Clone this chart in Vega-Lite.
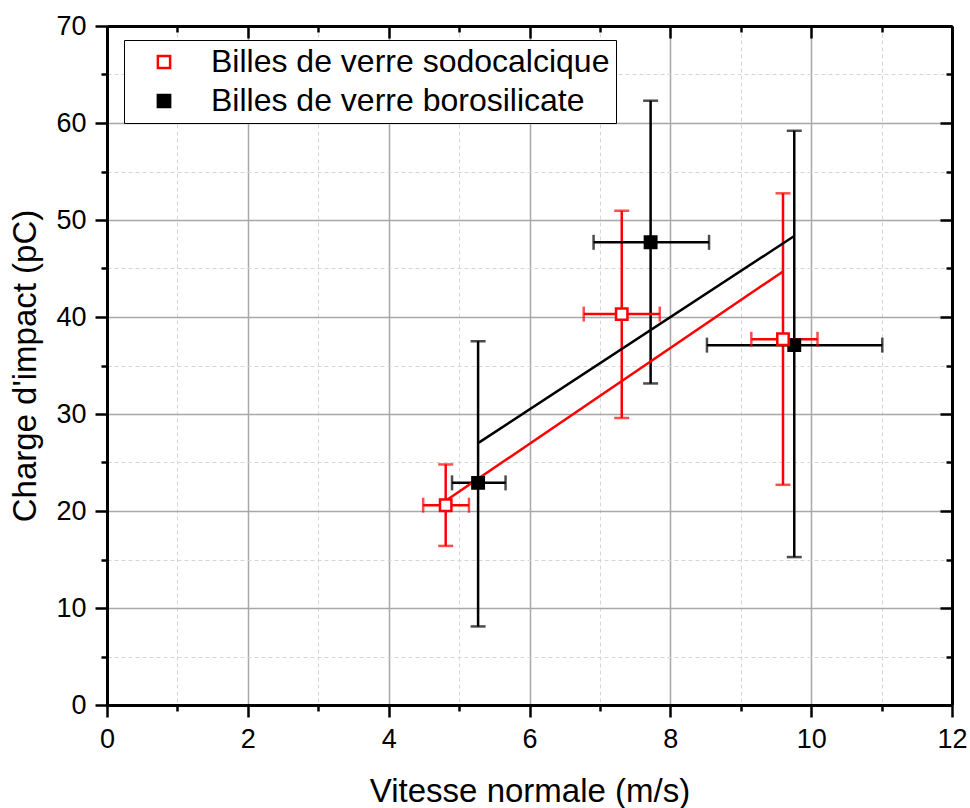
{
  "$schema": "https://vega.github.io/schema/vega-lite/v6.json",
  "width": 845,
  "height": 679,
  "autosize": {"type": "none"},
  "padding": {"left": 107, "top": 26, "right": 18, "bottom": 103},
  "background": "white",
  "datasets": {
    "pts": [
      {"series": "Billes de verre borosilicate", "x": 5.27, "y": 22.9, "xlo": 4.9, "xhi": 5.66, "ylo": 8.1, "yhi": 37.5},
      {"series": "Billes de verre borosilicate", "x": 7.72, "y": 47.7, "xlo": 6.91, "xhi": 8.55, "ylo": 33.15, "yhi": 62.3},
      {"series": "Billes de verre borosilicate", "x": 9.76, "y": 37.1, "xlo": 8.52, "xhi": 11.01, "ylo": 15.25, "yhi": 59.2},
      {"series": "Billes de verre sodocalcique", "x": 4.81, "y": 20.6, "xlo": 4.49, "xhi": 5.14, "ylo": 16.4, "yhi": 24.8},
      {"series": "Billes de verre sodocalcique", "x": 7.31, "y": 40.3, "xlo": 6.77, "xhi": 7.85, "ylo": 29.6, "yhi": 50.95},
      {"series": "Billes de verre sodocalcique", "x": 9.6, "y": 37.7, "xlo": 9.15, "xhi": 10.09, "ylo": 22.7, "yhi": 52.75}
    ],
    "fits": [
      {"series": "Billes de verre borosilicate", "x": 5.28, "y": 27.05},
      {"series": "Billes de verre borosilicate", "x": 9.76, "y": 48.35},
      {"series": "Billes de verre sodocalcique", "x": 4.82, "y": 21.1},
      {"series": "Billes de verre sodocalcique", "x": 9.6, "y": 44.7}
    ]
  },
  "layer": [
    {
      "data": {"name": "pts"},
      "mark": {"type": "rule", "strokeWidth": 2.5},
      "encoding": {
        "x": {
          "field": "x", "type": "quantitative",
          "scale": {"domain": [0, 12], "nice": false, "zero": false},
          "axis": {
            "orient": "bottom",
            "values": [0, 1, 2, 3, 4, 5, 6, 7, 8, 9, 10, 11, 12],
            "labelExpr": "datum.value % 2 === 0 ? datum.label : ''",
            "labelOverlap": false,
            "labelFlush": false,
            "labelFontSize": 27,
            "labelColor": "black",
            "labelPadding": 9,
            "title": "Vitesse normale (m/s)",
            "titleFontSize": 33,
            "titleFontWeight": "normal",
            "titleColor": "black",
            "titlePadding": 23,
            "domainColor": "black",
            "domainWidth": 3,
            "tickColor": "black",
            "tickWidth": 2.5,
            "tickSize": {"condition": {"test": "datum.value % 2 === 0", "value": 12}, "value": 6},
            "grid": true,
            "gridColor": {"condition": {"test": "datum.value % 2 === 0", "value": "#a8a8a8"}, "value": "#d6d6d6"},
            "gridDash": {"condition": {"test": "datum.value % 2 === 0", "value": []}, "value": [4, 3]},
            "gridWidth": {"condition": {"test": "datum.value % 2 === 0", "value": 1.5}, "value": 1}
          }
        },
        "y": {
          "field": "ylo", "type": "quantitative",
          "scale": {"domain": [0, 70], "nice": false, "zero": false},
          "axis": {
            "orient": "left",
            "values": [0, 5, 10, 15, 20, 25, 30, 35, 40, 45, 50, 55, 60, 65, 70],
            "labelExpr": "datum.value % 10 === 0 ? datum.label : ''",
            "labelOverlap": false,
            "labelFlush": false,
            "labelFontSize": 27,
            "labelColor": "black",
            "labelPadding": 9,
            "title": "Charge d'impact (pC)",
            "titleFontSize": 33,
            "titleFontWeight": "normal",
            "titleColor": "black",
            "titlePadding": 13,
            "domainColor": "black",
            "domainWidth": 3,
            "tickColor": "black",
            "tickWidth": 2.5,
            "tickSize": {"condition": {"test": "datum.value % 10 === 0", "value": 12}, "value": 6},
            "grid": true,
            "gridColor": {"condition": {"test": "datum.value % 10 === 0", "value": "#a8a8a8"}, "value": "#d6d6d6"},
            "gridDash": {"condition": {"test": "datum.value % 10 === 0", "value": []}, "value": [4, 3]},
            "gridWidth": {"condition": {"test": "datum.value % 10 === 0", "value": 1.5}, "value": 1}
          }
        },
        "y2": {"field": "yhi"},
        "color": {
          "field": "series", "type": "nominal",
          "scale": {"domain": ["Billes de verre borosilicate", "Billes de verre sodocalcique"], "range": ["#000000", "#ff0000"]},
          "legend": null
        }
      }
    },
    {
      "data": {"name": "pts"},
      "mark": {"type": "rule", "strokeWidth": 2.5},
      "encoding": {
        "x": {
          "field": "xlo", "type": "quantitative",
          "axis": {
            "orient": "top",
            "values": [0, 1, 2, 3, 4, 5, 6, 7, 8, 9, 10, 11, 12],
            "labels": false,
            "title": null,
            "grid": false,
            "domainColor": "black",
            "domainWidth": 3,
            "tickColor": "black",
            "tickWidth": 2.5,
            "tickSize": {"condition": {"test": "datum.value % 2 === 0", "value": -12}, "value": -6}
          }
        },
        "x2": {"field": "xhi"},
        "y": {
          "field": "y", "type": "quantitative",
          "axis": {
            "orient": "right",
            "values": [0, 5, 10, 15, 20, 25, 30, 35, 40, 45, 50, 55, 60, 65, 70],
            "labels": false,
            "title": null,
            "grid": false,
            "domainColor": "black",
            "domainWidth": 3,
            "tickColor": "black",
            "tickWidth": 2.5,
            "tickSize": {"condition": {"test": "datum.value % 10 === 0", "value": -12}, "value": -6}
          }
        },
        "color": {"field": "series", "type": "nominal", "legend": null}
      }
    },
    {
      "data": {"name": "pts"},
      "mark": {"type": "tick", "orient": "horizontal", "size": 15, "thickness": 2.5},
      "encoding": {
        "x": {"field": "x", "type": "quantitative", "axis": null},
        "y": {"field": "ylo", "type": "quantitative", "axis": null},
        "color": {"field": "series", "type": "nominal", "legend": null}
      }
    },
    {
      "data": {"name": "pts"},
      "mark": {"type": "tick", "orient": "horizontal", "size": 15, "thickness": 2.5},
      "encoding": {
        "x": {"field": "x", "type": "quantitative", "axis": null},
        "y": {"field": "yhi", "type": "quantitative", "axis": null},
        "color": {"field": "series", "type": "nominal", "legend": null}
      }
    },
    {
      "data": {"name": "pts"},
      "mark": {"type": "tick", "orient": "vertical", "size": 15, "thickness": 2.5},
      "encoding": {
        "x": {"field": "xlo", "type": "quantitative", "axis": null},
        "y": {"field": "y", "type": "quantitative", "axis": null},
        "color": {"field": "series", "type": "nominal", "legend": null}
      }
    },
    {
      "data": {"name": "pts"},
      "mark": {"type": "tick", "orient": "vertical", "size": 15, "thickness": 2.5},
      "encoding": {
        "x": {"field": "xhi", "type": "quantitative", "axis": null},
        "y": {"field": "y", "type": "quantitative", "axis": null},
        "color": {"field": "series", "type": "nominal", "legend": null}
      }
    },
    {
      "data": {"name": "fits"},
      "mark": {"type": "line", "strokeWidth": 2.5},
      "encoding": {
        "x": {"field": "x", "type": "quantitative", "axis": null},
        "y": {"field": "y", "type": "quantitative", "axis": null},
        "color": {"field": "series", "type": "nominal", "legend": null}
      }
    },
    {
      "data": {"name": "pts"},
      "mark": {"type": "point", "shape": "square", "size": 130, "strokeWidth": 2.5, "filled": true, "opacity": 1},
      "encoding": {
        "x": {"field": "x", "type": "quantitative", "axis": null},
        "y": {"field": "y", "type": "quantitative", "axis": null},
        "stroke": {
          "field": "series", "type": "nominal",
          "scale": {"domain": ["Billes de verre sodocalcique", "Billes de verre borosilicate"], "range": ["#ff0000", "#000000"]},
          "legend": {"orient": "none", "legendX": 17, "legendY": 14, "title": null}
        },
        "fill": {
          "field": "series", "type": "nominal",
          "scale": {"domain": ["Billes de verre sodocalcique", "Billes de verre borosilicate"], "range": ["#ffffff", "#000000"]},
          "legend": {"orient": "none", "legendX": 17, "legendY": 14, "title": null}
        }
      }
    }
  ],
  "resolve": {"axis": {"x": "independent", "y": "independent"}},
  "config": {
    "font": "Liberation Sans",
    "view": {"stroke": null},
    "legend": {
      "labelFontSize": 32,
      "labelColor": "black",
      "labelLimit": 700,
      "symbolType": "square",
      "symbolSize": 150,
      "symbolStrokeWidth": 2.5,
      "symbolOffset": 18,
      "labelOffset": 31,
      "padding": 6,
      "rowPadding": 7,
      "strokeColor": "black",
      "fillColor": "white"
    }
  }
}
